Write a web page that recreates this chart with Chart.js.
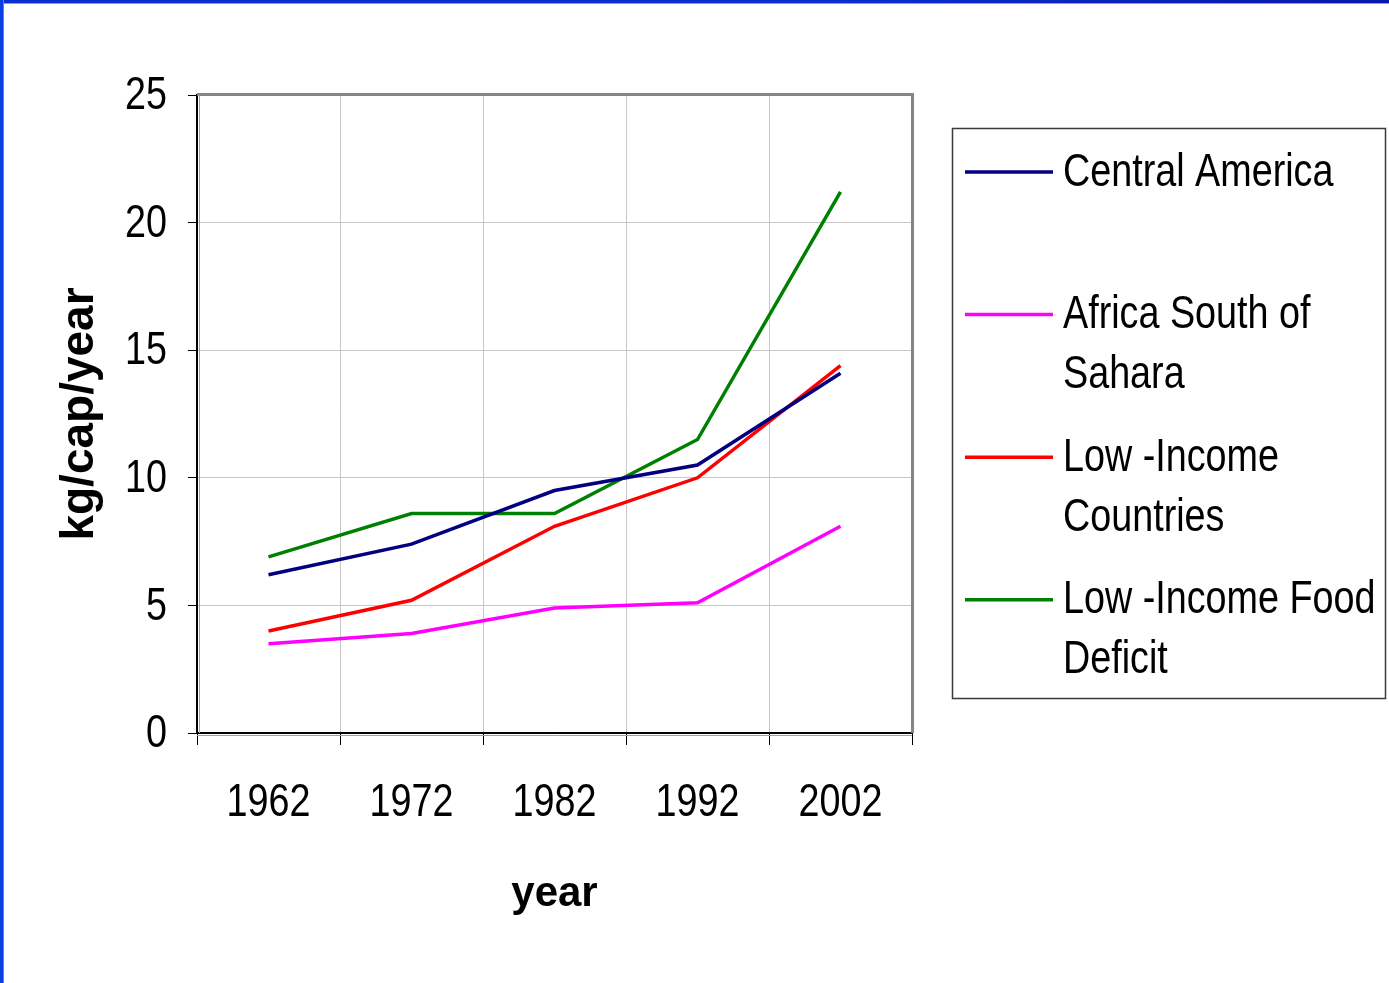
<!DOCTYPE html>
<html>
<head>
<meta charset="utf-8">
<title>kg/cap/year</title>
<script src="https://cdn.jsdelivr.net/npm/chart.js@4.4.1/dist/chart.umd.min.js"></script>
<style>
  html, body { margin: 0; padding: 0; background: #ffffff; overflow: hidden; }
  #wrap { position: relative; width: 1389px; height: 983px; }
  #topbar { position: absolute; left: 0; top: 0; width: 1389px; height: 3px;
            background: linear-gradient(to right, #0a2fd0, #0a2fd0 60%, #0818a8); border-bottom: 1px solid #9aa0b8; }
  #leftbar { position: absolute; left: 0; top: 0; width: 3px; height: 983px;
             background: #0a40e6; border-right: 1px solid #7080c0; }
  canvas { position: absolute; left: 0; top: 0; }
</style>
</head>
<body>
<div id="wrap">
  <canvas id="c" width="1389" height="983"></canvas>
  <div id="topbar"></div>
  <div id="leftbar"></div>
</div>
<script>
// Per-capita supply, kg per person per year
const years = ['1962', '1972', '1982', '1992', '2002'];
const centralAmerica = [6.2, 7.4, 9.5, 10.5, 14.1];
const africaSouthOfSahara = [3.5, 3.9, 4.9, 5.1, 8.1];
const lowIncomeCountries = [4.0, 5.2, 8.1, 10.0, 14.4];
const lowIncomeFoodDeficit = [6.9, 8.6, 8.6, 11.5, 21.2];

const seriesNames = ['Central America', 'Africa South of Sahara', 'Low -Income Countries', 'Low -Income Food Deficit'];
// legend text broken over lines as it is shown in the key box
const legendLines = [
  ['Central America'],
  ['Africa South of', 'Sahara'],
  ['Low -Income', 'Countries'],
  ['Low -Income Food', 'Deficit']
];
const seriesColors = ['#000080', '#ff00ff', '#ff0000', '#008000'];
const yTicks = [0, 5, 10, 15, 20, 25];

const sans = '"Liberation Sans", Arial, sans-serif';
const NARROW = 0.82;   // horizontal squeeze giving a narrow face
const LABEL_PX = 46;

function condensedText(ctx, text, x, y, align) {
  ctx.save();
  ctx.translate(x, y);
  ctx.scale(NARROW, 1);
  ctx.textAlign = align;
  ctx.fillText(text, 0, 0);
  ctx.restore();
}

// gray frame on the top and right sides of the plot area
const plotFrame = {
  id: 'plotFrame',
  beforeDatasetsDraw(chart) {
    const { ctx, chartArea: a } = chart;
    ctx.save();
    ctx.strokeStyle = '#858585';
    ctx.lineWidth = 3;
    ctx.beginPath();
    ctx.moveTo(a.left, a.top - 0.5);
    ctx.lineTo(a.right + 0.5, a.top - 0.5);
    ctx.lineTo(a.right + 0.5, a.bottom);
    ctx.stroke();
    // soft shadow along the dark axis lines
    ctx.strokeStyle = '#a0a0a0';
    ctx.lineWidth = 1;
    ctx.beginPath();
    ctx.moveTo(a.left + 2.5, a.top);
    ctx.lineTo(a.left + 2.5, a.bottom);
    ctx.moveTo(a.left, a.bottom + 2.5);
    ctx.lineTo(a.right, a.bottom + 2.5);
    ctx.stroke();
    ctx.restore();
  }
};

// narrow tick labels placed at the scales' own tick positions
const narrowTicks = {
  id: 'narrowTicks',
  afterDraw(chart) {
    const { ctx, scales: { x, y } } = chart;
    ctx.save();
    ctx.fillStyle = '#000000';
    ctx.font = LABEL_PX + 'px ' + sans;
    ctx.textBaseline = 'middle';
    y.ticks.forEach((t, i) => {
      condensedText(ctx, String(t.value), 167, y.getPixelForTick(i) + 1.5, 'right');
    });
    x.ticks.forEach((t, i) => {
      condensedText(ctx, x.getLabelForValue(t.value), x.getPixelForTick(i), 803, 'center');
    });
    ctx.restore();
  }
};

// boxed key on the right with wrapped series names
const keyBox = {
  id: 'keyBox',
  afterDraw(chart) {
    const { ctx } = chart;
    const box = { x: 952, y: 128, w: 433, h: 570 };
    ctx.save();
    ctx.strokeStyle = '#3a3a3a';
    ctx.lineWidth = 1.5;
    ctx.strokeRect(box.x + 0.5, box.y + 0.5, box.w, box.h);
    ctx.font = LABEL_PX + 'px ' + sans;
    ctx.textBaseline = 'middle';
    chart.data.datasets.forEach((ds, i) => {
      const y = 172 + i * 142.6;
      ctx.strokeStyle = ds.borderColor;
      ctx.lineWidth = 3.5;
      ctx.beginPath();
      ctx.moveTo(965, y);
      ctx.lineTo(1053, y);
      ctx.stroke();
      ctx.fillStyle = '#000000';
      legendLines[i].forEach((t, k) => condensedText(ctx, t, 1063, y + 1 + k * 60, 'left'));
    });
    ctx.restore();
  }
};

const datasets = [centralAmerica, africaSouthOfSahara, lowIncomeCountries, lowIncomeFoodDeficit].map((d, i) => ({
  label: seriesNames[i],
  data: d,
  borderColor: seriesColors[i],
  backgroundColor: seriesColors[i],
  borderWidth: 3.5,
  pointRadius: 0,
  tension: 0,
  fill: false
}));

new Chart(document.getElementById('c'), {
  type: 'line',
  data: { labels: years, datasets },
  options: {
    responsive: false,
    animation: false,
    events: [],
    layout: { padding: { left: 0, top: 95, right: 477, bottom: 0 } },
    plugins: { legend: { display: false }, tooltip: { enabled: false } },
    scales: {
      x: {
        offset: true,
        grid: { offset: true, color: '#c8c8c8', lineWidth: 1, tickColor: '#000000', tickLength: 12 },
        border: { display: true, color: '#000000', width: 2 },
        ticks: { display: false },
        title: { display: true, text: 'year', color: '#000000', padding: { top: 0, bottom: 68 },
                 font: { family: sans, size: 42, weight: 'bold', lineHeight: 1 } },
        afterFit(s) { s.height = 250; }
      },
      y: {
        min: 0, max: 25,
        afterBuildTicks(s) { s.ticks = yTicks.map(v => ({ value: v })); },
        grid: { color: '#c8c8c8', lineWidth: 1, tickColor: '#000000', tickLength: 9 },
        border: { display: true, color: '#000000', width: 2 },
        ticks: { display: false },
        title: { display: true, text: 'kg/cap/year', color: '#000000', padding: { top: 57, bottom: 0 },
                 font: { family: sans, size: 46, weight: 'bold', lineHeight: 1 } },
        afterFit(s) { s.width = 197; }
      }
    }
  },
  plugins: [plotFrame, narrowTicks, keyBox]
});
</script>
</body>
</html>
